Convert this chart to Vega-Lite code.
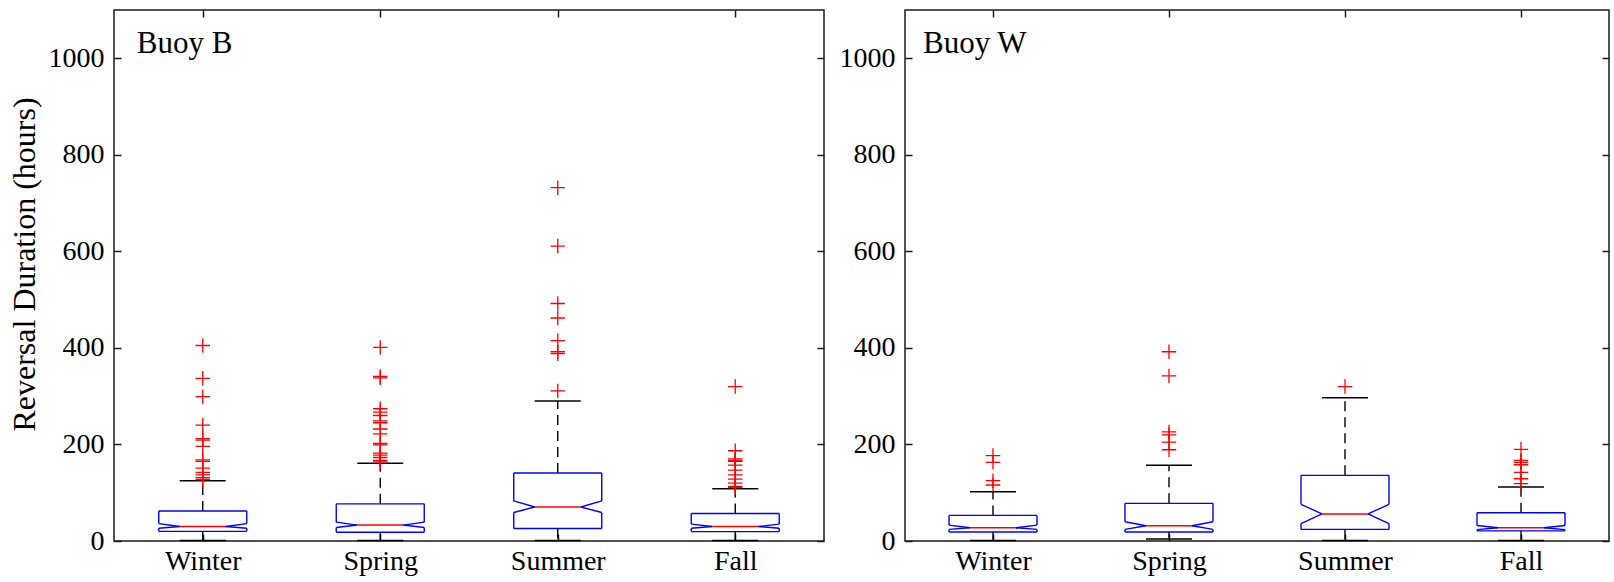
{
  "$schema": "https://vega.github.io/schema/vega-lite/v6.json",
  "autosize": {"type": "pad"},
  "padding": {"left": 7, "top": 8, "right": 2, "bottom": 5},
  "background": "white",
  "data": {"values": [
    {"buoy": "Buoy B", "season": "Winter", "kind": "box", "q1": 20, "nlo": 26.5, "med": 30, "nhi": 36, "q3": 62, "wlo": 1, "whi": 125},
    {"buoy": "Buoy B", "season": "Spring", "kind": "box", "q1": 18, "nlo": 28, "med": 33, "nhi": 39, "q3": 77, "wlo": 1, "whi": 161},
    {"buoy": "Buoy B", "season": "Summer", "kind": "box", "q1": 26, "nlo": 59, "med": 70.5, "nhi": 83, "q3": 141, "wlo": 1, "whi": 290},
    {"buoy": "Buoy B", "season": "Fall", "kind": "box", "q1": 19.5, "nlo": 26.5, "med": 30, "nhi": 35, "q3": 57, "wlo": 1, "whi": 108},
    {"buoy": "Buoy W", "season": "Winter", "kind": "box", "q1": 18.5, "nlo": 24, "med": 27.5, "nhi": 33, "q3": 53, "wlo": 1, "whi": 102},
    {"buoy": "Buoy W", "season": "Spring", "kind": "box", "q1": 18.5, "nlo": 24, "med": 31.5, "nhi": 40, "q3": 78, "wlo": 4, "whi": 157},
    {"buoy": "Buoy W", "season": "Summer", "kind": "box", "q1": 24, "nlo": 36, "med": 56, "nhi": 76, "q3": 136, "wlo": 1, "whi": 297},
    {"buoy": "Buoy W", "season": "Fall", "kind": "box", "q1": 21, "nlo": 23.5, "med": 27.5, "nhi": 32, "q3": 58.5, "wlo": 1, "whi": 112},
    {"buoy": "Buoy B", "season": "Winter", "kind": "out", "value": 405},
    {"buoy": "Buoy B", "season": "Winter", "kind": "out", "value": 337},
    {"buoy": "Buoy B", "season": "Winter", "kind": "out", "value": 299},
    {"buoy": "Buoy B", "season": "Winter", "kind": "out", "value": 240},
    {"buoy": "Buoy B", "season": "Winter", "kind": "out", "value": 212},
    {"buoy": "Buoy B", "season": "Winter", "kind": "out", "value": 209},
    {"buoy": "Buoy B", "season": "Winter", "kind": "out", "value": 196},
    {"buoy": "Buoy B", "season": "Winter", "kind": "out", "value": 168},
    {"buoy": "Buoy B", "season": "Winter", "kind": "out", "value": 165},
    {"buoy": "Buoy B", "season": "Winter", "kind": "out", "value": 151},
    {"buoy": "Buoy B", "season": "Winter", "kind": "out", "value": 142},
    {"buoy": "Buoy B", "season": "Winter", "kind": "out", "value": 137},
    {"buoy": "Buoy B", "season": "Winter", "kind": "out", "value": 131},
    {"buoy": "Buoy B", "season": "Winter", "kind": "out", "value": 127},
    {"buoy": "Buoy B", "season": "Spring", "kind": "out", "value": 401},
    {"buoy": "Buoy B", "season": "Spring", "kind": "out", "value": 341},
    {"buoy": "Buoy B", "season": "Spring", "kind": "out", "value": 338},
    {"buoy": "Buoy B", "season": "Spring", "kind": "out", "value": 274},
    {"buoy": "Buoy B", "season": "Spring", "kind": "out", "value": 267},
    {"buoy": "Buoy B", "season": "Spring", "kind": "out", "value": 260},
    {"buoy": "Buoy B", "season": "Spring", "kind": "out", "value": 249},
    {"buoy": "Buoy B", "season": "Spring", "kind": "out", "value": 245},
    {"buoy": "Buoy B", "season": "Spring", "kind": "out", "value": 232},
    {"buoy": "Buoy B", "season": "Spring", "kind": "out", "value": 222},
    {"buoy": "Buoy B", "season": "Spring", "kind": "out", "value": 202},
    {"buoy": "Buoy B", "season": "Spring", "kind": "out", "value": 199},
    {"buoy": "Buoy B", "season": "Spring", "kind": "out", "value": 182},
    {"buoy": "Buoy B", "season": "Spring", "kind": "out", "value": 178},
    {"buoy": "Buoy B", "season": "Spring", "kind": "out", "value": 173},
    {"buoy": "Buoy B", "season": "Spring", "kind": "out", "value": 167},
    {"buoy": "Buoy B", "season": "Spring", "kind": "out", "value": 164},
    {"buoy": "Buoy B", "season": "Summer", "kind": "out", "value": 732},
    {"buoy": "Buoy B", "season": "Summer", "kind": "out", "value": 611},
    {"buoy": "Buoy B", "season": "Summer", "kind": "out", "value": 492},
    {"buoy": "Buoy B", "season": "Summer", "kind": "out", "value": 462},
    {"buoy": "Buoy B", "season": "Summer", "kind": "out", "value": 415},
    {"buoy": "Buoy B", "season": "Summer", "kind": "out", "value": 392},
    {"buoy": "Buoy B", "season": "Summer", "kind": "out", "value": 388},
    {"buoy": "Buoy B", "season": "Summer", "kind": "out", "value": 311},
    {"buoy": "Buoy B", "season": "Fall", "kind": "out", "value": 320},
    {"buoy": "Buoy B", "season": "Fall", "kind": "out", "value": 187},
    {"buoy": "Buoy B", "season": "Fall", "kind": "out", "value": 170},
    {"buoy": "Buoy B", "season": "Fall", "kind": "out", "value": 167},
    {"buoy": "Buoy B", "season": "Fall", "kind": "out", "value": 165},
    {"buoy": "Buoy B", "season": "Fall", "kind": "out", "value": 157},
    {"buoy": "Buoy B", "season": "Fall", "kind": "out", "value": 147},
    {"buoy": "Buoy B", "season": "Fall", "kind": "out", "value": 137},
    {"buoy": "Buoy B", "season": "Fall", "kind": "out", "value": 128},
    {"buoy": "Buoy B", "season": "Fall", "kind": "out", "value": 120},
    {"buoy": "Buoy B", "season": "Fall", "kind": "out", "value": 113},
    {"buoy": "Buoy B", "season": "Fall", "kind": "out", "value": 111},
    {"buoy": "Buoy W", "season": "Winter", "kind": "out", "value": 177},
    {"buoy": "Buoy W", "season": "Winter", "kind": "out", "value": 163},
    {"buoy": "Buoy W", "season": "Winter", "kind": "out", "value": 125},
    {"buoy": "Buoy W", "season": "Winter", "kind": "out", "value": 116},
    {"buoy": "Buoy W", "season": "Spring", "kind": "out", "value": 392},
    {"buoy": "Buoy W", "season": "Spring", "kind": "out", "value": 342},
    {"buoy": "Buoy W", "season": "Spring", "kind": "out", "value": 226},
    {"buoy": "Buoy W", "season": "Spring", "kind": "out", "value": 220},
    {"buoy": "Buoy W", "season": "Spring", "kind": "out", "value": 205},
    {"buoy": "Buoy W", "season": "Spring", "kind": "out", "value": 189},
    {"buoy": "Buoy W", "season": "Summer", "kind": "out", "value": 320},
    {"buoy": "Buoy W", "season": "Fall", "kind": "out", "value": 190},
    {"buoy": "Buoy W", "season": "Fall", "kind": "out", "value": 167},
    {"buoy": "Buoy W", "season": "Fall", "kind": "out", "value": 163},
    {"buoy": "Buoy W", "season": "Fall", "kind": "out", "value": 158},
    {"buoy": "Buoy W", "season": "Fall", "kind": "out", "value": 142},
    {"buoy": "Buoy W", "season": "Fall", "kind": "out", "value": 129},
    {"buoy": "Buoy W", "season": "Fall", "kind": "out", "value": 119}
  ]},
  "spacing": 81,
  "bounds": "flush",
  "hconcat": [
    {
      "width": 710,
      "height": 531,
      "transform": [{"filter": "datum.buoy === 'Buoy B'"}],
      "layer": [
        {"transform": [{"filter": "datum.kind === 'box'"}], "mark": {"type": "rule", "color": "black", "strokeWidth": 1.4, "strokeDash": [10, 6]},
         "encoding": {"x": {"field": "season", "type": "ordinal", "scale": {"type": "point", "padding": 0.5, "domain": ["Winter", "Spring", "Summer", "Fall"]}, "axis": {"title": null, "orient": "bottom", "labelFont": "Liberation Serif", "labelFontSize": 28, "labelColor": "#000000", "labelAngle": 0, "labelPadding": 13}},
                      "y": {"field": "q3", "type": "quantitative", "scale": {"domain": [0, 1100], "nice": false}, "axis": {"title": "Reversal Duration (hours)", "orient": "left", "values": [0, 200, 400, 600, 800, 1000], "format": "d", "labelFont": "Liberation Serif", "labelFontSize": 28, "labelColor": "#000000", "labelPadding": 17, "titleFont": "Liberation Serif", "titleFontSize": 32, "titleFontWeight": "normal", "titleColor": "#000000", "titleY": 254, "titlePadding": 7}},
                      "y2": {"field": "whi"}}},
        {"transform": [{"filter": "datum.kind === 'box'"}], "mark": {"type": "point", "opacity": 0},
         "encoding": {"x": {"field": "season", "type": "ordinal", "axis": {"orient": "top", "labels": false, "title": null}},
                      "y": {"field": "med", "type": "quantitative", "axis": {"orient": "right", "labels": false, "title": null, "values": [0, 200, 400, 600, 800, 1000]}}}},
        {"transform": [{"filter": "datum.kind === 'box'"}], "mark": {"type": "rule", "color": "black", "strokeWidth": 1.4, "strokeDash": [10, 6]},
         "encoding": {"x": {"field": "season", "type": "ordinal", "axis": null}, "y": {"field": "q1", "type": "quantitative", "axis": null}, "y2": {"field": "wlo"}}},
        {"transform": [{"filter": "datum.kind === 'box'"}], "mark": {"type": "rule", "color": "black", "strokeWidth": 1.5, "xOffset": -23, "x2Offset": 23},
         "encoding": {"x": {"field": "season", "type": "ordinal", "axis": null}, "x2": {"field": "season"}, "y": {"field": "whi", "type": "quantitative", "axis": null}}},
        {"transform": [{"filter": "datum.kind === 'box'"}], "mark": {"type": "rule", "color": "black", "strokeWidth": 1.5, "xOffset": -23, "x2Offset": 23},
         "encoding": {"x": {"field": "season", "type": "ordinal", "axis": null}, "x2": {"field": "season"}, "y": {"field": "wlo", "type": "quantitative", "axis": null}}},
        {"transform": [{"filter": "datum.kind === 'box'"}], "mark": {"type": "rule", "color": "#0000ff", "strokeWidth": 1.4, "xOffset": -44, "x2Offset": 44},
         "encoding": {"x": {"field": "season", "type": "ordinal", "axis": null}, "x2": {"field": "season"}, "y": {"field": "q3", "type": "quantitative", "axis": null}}},
        {"transform": [{"filter": "datum.kind === 'box'"}], "mark": {"type": "rule", "color": "#0000ff", "strokeWidth": 1.4, "xOffset": -44, "x2Offset": 44},
         "encoding": {"x": {"field": "season", "type": "ordinal", "axis": null}, "x2": {"field": "season"}, "y": {"field": "q1", "type": "quantitative", "axis": null}}},
        {"transform": [{"filter": "datum.kind === 'box'"}], "mark": {"type": "rule", "color": "#0000ff", "strokeWidth": 1.4, "xOffset": -44},
         "encoding": {"x": {"field": "season", "type": "ordinal", "axis": null}, "y": {"field": "q3", "type": "quantitative", "axis": null}, "y2": {"field": "nhi"}}},
        {"transform": [{"filter": "datum.kind === 'box'"}], "mark": {"type": "rule", "color": "#0000ff", "strokeWidth": 1.4, "xOffset": 44},
         "encoding": {"x": {"field": "season", "type": "ordinal", "axis": null}, "y": {"field": "q3", "type": "quantitative", "axis": null}, "y2": {"field": "nhi"}}},
        {"transform": [{"filter": "datum.kind === 'box'"}], "mark": {"type": "rule", "color": "#0000ff", "strokeWidth": 1.4, "xOffset": -44},
         "encoding": {"x": {"field": "season", "type": "ordinal", "axis": null}, "y": {"field": "q1", "type": "quantitative", "axis": null}, "y2": {"field": "nlo"}}},
        {"transform": [{"filter": "datum.kind === 'box'"}], "mark": {"type": "rule", "color": "#0000ff", "strokeWidth": 1.4, "xOffset": 44},
         "encoding": {"x": {"field": "season", "type": "ordinal", "axis": null}, "y": {"field": "q1", "type": "quantitative", "axis": null}, "y2": {"field": "nlo"}}},
        {"transform": [{"filter": "datum.kind === 'box'"}], "mark": {"type": "rule", "color": "#0000ff", "strokeWidth": 1.4, "xOffset": -44, "x2Offset": -23},
         "encoding": {"x": {"field": "season", "type": "ordinal", "axis": null}, "x2": {"field": "season"}, "y": {"field": "nhi", "type": "quantitative", "axis": null}, "y2": {"field": "med"}}},
        {"transform": [{"filter": "datum.kind === 'box'"}], "mark": {"type": "rule", "color": "#0000ff", "strokeWidth": 1.4, "xOffset": -44, "x2Offset": -23},
         "encoding": {"x": {"field": "season", "type": "ordinal", "axis": null}, "x2": {"field": "season"}, "y": {"field": "nlo", "type": "quantitative", "axis": null}, "y2": {"field": "med"}}},
        {"transform": [{"filter": "datum.kind === 'box'"}], "mark": {"type": "rule", "color": "#0000ff", "strokeWidth": 1.4, "xOffset": 44, "x2Offset": 23},
         "encoding": {"x": {"field": "season", "type": "ordinal", "axis": null}, "x2": {"field": "season"}, "y": {"field": "nhi", "type": "quantitative", "axis": null}, "y2": {"field": "med"}}},
        {"transform": [{"filter": "datum.kind === 'box'"}], "mark": {"type": "rule", "color": "#0000ff", "strokeWidth": 1.4, "xOffset": 44, "x2Offset": 23},
         "encoding": {"x": {"field": "season", "type": "ordinal", "axis": null}, "x2": {"field": "season"}, "y": {"field": "nlo", "type": "quantitative", "axis": null}, "y2": {"field": "med"}}},
        {"transform": [{"filter": "datum.kind === 'box'"}], "mark": {"type": "rule", "color": "#ff0000", "strokeWidth": 1.4, "xOffset": -23, "x2Offset": 23},
         "encoding": {"x": {"field": "season", "type": "ordinal", "axis": null}, "x2": {"field": "season"}, "y": {"field": "med", "type": "quantitative", "axis": null}}},
        {"transform": [{"filter": "datum.kind === 'out'"}], "mark": {"type": "point", "shape": "M-1,0H1M0,-1V1", "size": 210, "filled": false, "stroke": "#ff0000", "strokeWidth": 1.3, "opacity": 1},
         "encoding": {"x": {"field": "season", "type": "ordinal", "axis": null}, "y": {"field": "value", "type": "quantitative", "axis": null}}},
        {"transform": [{"filter": "datum.kind === 'box' && datum.season === 'Winter'"}], "mark": {"type": "text", "align": "left", "baseline": "alphabetic", "dx": -66, "fontSize": 31, "font": "Liberation Serif", "color": "black"},
         "encoding": {"x": {"field": "season", "type": "ordinal", "axis": null}, "y": {"datum": 1010, "axis": null}, "text": {"field": "buoy"}}}
      ],
      "resolve": {"axis": {"x": "independent", "y": "independent"}}
    },
    {
      "width": 704,
      "height": 531,
      "transform": [{"filter": "datum.buoy === 'Buoy W'"}],
      "layer": [
        {"transform": [{"filter": "datum.kind === 'box'"}], "mark": {"type": "rule", "color": "black", "strokeWidth": 1.4, "strokeDash": [10, 6]},
         "encoding": {"x": {"field": "season", "type": "ordinal", "scale": {"type": "point", "padding": 0.5, "domain": ["Winter", "Spring", "Summer", "Fall"]}, "axis": {"title": null, "orient": "bottom", "labelFont": "Liberation Serif", "labelFontSize": 28, "labelColor": "#000000", "labelAngle": 0, "labelPadding": 13}},
                      "y": {"field": "q3", "type": "quantitative", "scale": {"domain": [0, 1100], "nice": false}, "axis": {"title": null, "orient": "left", "values": [0, 200, 400, 600, 800, 1000], "format": "d", "labelFont": "Liberation Serif", "labelFontSize": 28, "labelColor": "#000000", "labelPadding": 17}},
                      "y2": {"field": "whi"}}},
        {"transform": [{"filter": "datum.kind === 'box'"}], "mark": {"type": "point", "opacity": 0},
         "encoding": {"x": {"field": "season", "type": "ordinal", "axis": {"orient": "top", "labels": false, "title": null}},
                      "y": {"field": "med", "type": "quantitative", "axis": {"orient": "right", "labels": false, "title": null, "values": [0, 200, 400, 600, 800, 1000]}}}},
        {"transform": [{"filter": "datum.kind === 'box'"}], "mark": {"type": "rule", "color": "black", "strokeWidth": 1.4, "strokeDash": [10, 6]},
         "encoding": {"x": {"field": "season", "type": "ordinal", "axis": null}, "y": {"field": "q1", "type": "quantitative", "axis": null}, "y2": {"field": "wlo"}}},
        {"transform": [{"filter": "datum.kind === 'box'"}], "mark": {"type": "rule", "color": "black", "strokeWidth": 1.5, "xOffset": -23, "x2Offset": 23},
         "encoding": {"x": {"field": "season", "type": "ordinal", "axis": null}, "x2": {"field": "season"}, "y": {"field": "whi", "type": "quantitative", "axis": null}}},
        {"transform": [{"filter": "datum.kind === 'box'"}], "mark": {"type": "rule", "color": "black", "strokeWidth": 1.5, "xOffset": -23, "x2Offset": 23},
         "encoding": {"x": {"field": "season", "type": "ordinal", "axis": null}, "x2": {"field": "season"}, "y": {"field": "wlo", "type": "quantitative", "axis": null}}},
        {"transform": [{"filter": "datum.kind === 'box'"}], "mark": {"type": "rule", "color": "#0000ff", "strokeWidth": 1.4, "xOffset": -44, "x2Offset": 44},
         "encoding": {"x": {"field": "season", "type": "ordinal", "axis": null}, "x2": {"field": "season"}, "y": {"field": "q3", "type": "quantitative", "axis": null}}},
        {"transform": [{"filter": "datum.kind === 'box'"}], "mark": {"type": "rule", "color": "#0000ff", "strokeWidth": 1.4, "xOffset": -44, "x2Offset": 44},
         "encoding": {"x": {"field": "season", "type": "ordinal", "axis": null}, "x2": {"field": "season"}, "y": {"field": "q1", "type": "quantitative", "axis": null}}},
        {"transform": [{"filter": "datum.kind === 'box'"}], "mark": {"type": "rule", "color": "#0000ff", "strokeWidth": 1.4, "xOffset": -44},
         "encoding": {"x": {"field": "season", "type": "ordinal", "axis": null}, "y": {"field": "q3", "type": "quantitative", "axis": null}, "y2": {"field": "nhi"}}},
        {"transform": [{"filter": "datum.kind === 'box'"}], "mark": {"type": "rule", "color": "#0000ff", "strokeWidth": 1.4, "xOffset": 44},
         "encoding": {"x": {"field": "season", "type": "ordinal", "axis": null}, "y": {"field": "q3", "type": "quantitative", "axis": null}, "y2": {"field": "nhi"}}},
        {"transform": [{"filter": "datum.kind === 'box'"}], "mark": {"type": "rule", "color": "#0000ff", "strokeWidth": 1.4, "xOffset": -44},
         "encoding": {"x": {"field": "season", "type": "ordinal", "axis": null}, "y": {"field": "q1", "type": "quantitative", "axis": null}, "y2": {"field": "nlo"}}},
        {"transform": [{"filter": "datum.kind === 'box'"}], "mark": {"type": "rule", "color": "#0000ff", "strokeWidth": 1.4, "xOffset": 44},
         "encoding": {"x": {"field": "season", "type": "ordinal", "axis": null}, "y": {"field": "q1", "type": "quantitative", "axis": null}, "y2": {"field": "nlo"}}},
        {"transform": [{"filter": "datum.kind === 'box'"}], "mark": {"type": "rule", "color": "#0000ff", "strokeWidth": 1.4, "xOffset": -44, "x2Offset": -23},
         "encoding": {"x": {"field": "season", "type": "ordinal", "axis": null}, "x2": {"field": "season"}, "y": {"field": "nhi", "type": "quantitative", "axis": null}, "y2": {"field": "med"}}},
        {"transform": [{"filter": "datum.kind === 'box'"}], "mark": {"type": "rule", "color": "#0000ff", "strokeWidth": 1.4, "xOffset": -44, "x2Offset": -23},
         "encoding": {"x": {"field": "season", "type": "ordinal", "axis": null}, "x2": {"field": "season"}, "y": {"field": "nlo", "type": "quantitative", "axis": null}, "y2": {"field": "med"}}},
        {"transform": [{"filter": "datum.kind === 'box'"}], "mark": {"type": "rule", "color": "#0000ff", "strokeWidth": 1.4, "xOffset": 44, "x2Offset": 23},
         "encoding": {"x": {"field": "season", "type": "ordinal", "axis": null}, "x2": {"field": "season"}, "y": {"field": "nhi", "type": "quantitative", "axis": null}, "y2": {"field": "med"}}},
        {"transform": [{"filter": "datum.kind === 'box'"}], "mark": {"type": "rule", "color": "#0000ff", "strokeWidth": 1.4, "xOffset": 44, "x2Offset": 23},
         "encoding": {"x": {"field": "season", "type": "ordinal", "axis": null}, "x2": {"field": "season"}, "y": {"field": "nlo", "type": "quantitative", "axis": null}, "y2": {"field": "med"}}},
        {"transform": [{"filter": "datum.kind === 'box'"}], "mark": {"type": "rule", "color": "#ff0000", "strokeWidth": 1.4, "xOffset": -23, "x2Offset": 23},
         "encoding": {"x": {"field": "season", "type": "ordinal", "axis": null}, "x2": {"field": "season"}, "y": {"field": "med", "type": "quantitative", "axis": null}}},
        {"transform": [{"filter": "datum.kind === 'out'"}], "mark": {"type": "point", "shape": "M-1,0H1M0,-1V1", "size": 210, "filled": false, "stroke": "#ff0000", "strokeWidth": 1.3, "opacity": 1},
         "encoding": {"x": {"field": "season", "type": "ordinal", "axis": null}, "y": {"field": "value", "type": "quantitative", "axis": null}}},
        {"transform": [{"filter": "datum.kind === 'box' && datum.season === 'Winter'"}], "mark": {"type": "text", "align": "left", "baseline": "alphabetic", "dx": -70, "fontSize": 31, "font": "Liberation Serif", "color": "black"},
         "encoding": {"x": {"field": "season", "type": "ordinal", "axis": null}, "y": {"datum": 1010, "axis": null}, "text": {"field": "buoy"}}}
      ],
      "resolve": {"axis": {"x": "independent", "y": "independent"}}
    }
  ],
  "config": {
    "view": {"stroke": "#1a1a1a", "strokeWidth": 1.5},
    "axis": {"domain": false, "grid": false, "tickSize": -7, "tickColor": "#1a1a1a", "tickWidth": 1.5, "labelPadding": 10, "labelFlush": false, "labelOverlap": false, "titlePadding": 10}
  }
}
